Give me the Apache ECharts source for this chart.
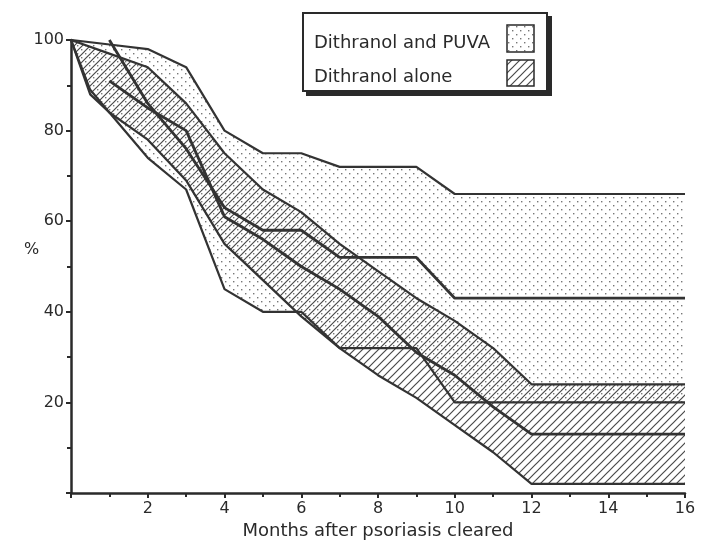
<!DOCTYPE html>
<html>
<head>
<meta charset="utf-8">
<script src="https://cdn.jsdelivr.net/npm/echarts@6/dist/echarts.min.js"></script>
<style>
html,body{margin:0;padding:0;background:#fff;}
#chart{width:701px;height:546px;}
</style>
</head>
<body>
<div id="chart"></div>
<script>
// ---- data (month, % ) ----
const xTicks = [2, 4, 6, 8, 10, 12, 14, 16];
const yTicks = [20, 40, 60, 80, 100];
const seriesNames = ['Dithranol and PUVA', 'Dithranol alone'];

const puvaUpper  = [[0,100],[1,99],[2,98],[3,94],[4,80],[5,75],[6,75],[7,72],[9,72],[10,66],[16,66]];
const puvaMedian = [[1,100],[2,86],[3,76],[4,63],[5,58],[6,58],[7,52],[9,52],[10,43],[16,43]];
const puvaLower  = [[0,100],[0.5,89],[1,84],[2,74],[3,67],[4,45],[5,40],[6,40],[7,32],[9,32],[10,20],[16,20]];

const aloneUpper  = [[0,100],[1,97],[2,94],[3,86],[4,75],[5,67],[6,62],[7,55],[8,49],[9,43],[10,38],[11,32],[12,24],[16,24]];
const aloneMedian = [[1,91],[2,85],[3,80],[4,61],[5,56],[6,50],[7,45],[8,39],[9,31],[10,26],[11,19],[12,13],[16,13]];
const aloneLower  = [[0,100],[0.5,88],[1,84],[2,78],[3,69],[4,55],[5,47],[6,39],[7,32],[8,26],[9,21],[10,15],[11,9],[12,2],[16,2]];

// ---- patterns ----
function dotPattern() {
  const c = document.createElement('canvas');
  c.width = 8; c.height = 8;
  const g = c.getContext('2d');
  g.fillStyle = '#777';
  g.fillRect(1, 1, 1.4, 1.4);
  g.fillRect(5, 5, 1.4, 1.4);
  return c;
}
function hatchPattern() {
  const s = 8;
  const c = document.createElement('canvas');
  c.width = s; c.height = s;
  const g = c.getContext('2d');
  g.strokeStyle = '#4a4a4a';
  g.lineWidth = 1.2;
  g.beginPath();
  g.moveTo(-1, s + 1); g.lineTo(s + 1, -1);
  g.moveTo(-1, 1); g.lineTo(1, -1);
  g.moveTo(s - 1, s + 1); g.lineTo(s + 1, s - 1);
  g.stroke();
  return c;
}
const dots = dotPattern();
const hatch = hatchPattern();

function bandSeries(upper, lower, pattern, z) {
  return {
    type: 'custom',
    coordinateSystem: 'cartesian2d',
    silent: true,
    z: z,
    data: [[upper[0][0], upper[0][1]]],
    renderItem: function (params, api) {
      const pts = [];
      upper.forEach(p => pts.push(api.coord(p)));
      for (let i = lower.length - 1; i >= 0; i--) pts.push(api.coord(lower[i]));
      return {
        type: 'polygon',
        shape: { points: pts },
        style: { fill: { image: pattern, repeat: 'repeat' }, stroke: null }
      };
    }
  };
}

const lineColor = '#333';
function lineSeries(data, width) {
  return {
    type: 'line',
    data: data,
    symbol: 'none',
    z: 5,
    silent: true,
    lineStyle: { color: lineColor, width: width },
    animation: false
  };
}

const chart = echarts.init(document.getElementById('chart'), null, { renderer: 'canvas' });
const fontFam = 'DejaVu Sans';

chart.setOption({
  backgroundColor: '#ffffff',
  animation: false,
  grid: { left: 71, right: 16, top: 40, bottom: 53 },
  xAxis: {
    type: 'value',
    min: 0, max: 16, interval: 2,
    name: 'Months after psoriasis cleared',
    nameLocation: 'middle',
    nameGap: 21,
    nameTextStyle: { fontFamily: fontFam, fontSize: 18, color: '#2a2a2a' },
    axisLine: { show: true, lineStyle: { color: '#2a2a2a', width: 2.5 } },
    axisTick: { show: true, length: 5, lineStyle: { color: '#2a2a2a', width: 2 } },
    minorTick: { show: true, splitNumber: 2, length: 4, lineStyle: { color: '#2a2a2a', width: 2 } },
    splitLine: { show: false },
    axisLabel: {
      fontFamily: fontFam, fontSize: 16, color: '#2a2a2a', margin: 8,
      formatter: v => (xTicks.indexOf(v) >= 0 ? String(v) : '')
    }
  },
  yAxis: {
    type: 'value',
    min: 0, max: 100, interval: 20,
    axisLine: { show: true, lineStyle: { color: '#2a2a2a', width: 2.5 } },
    axisTick: { show: true, length: 5, lineStyle: { color: '#2a2a2a', width: 2 } },
    minorTick: { show: true, splitNumber: 2, length: 4, lineStyle: { color: '#2a2a2a', width: 2 } },
    splitLine: { show: false },
    axisLabel: {
      fontFamily: fontFam, fontSize: 16, color: '#2a2a2a', margin: 7,
      formatter: v => (yTicks.indexOf(v) >= 0 ? String(v) : '')
    }
  },
  series: [
    bandSeries(puvaUpper, puvaLower, dots, 1),
    bandSeries(aloneUpper, aloneLower, hatch, 2),
    lineSeries(puvaUpper, 2.2),
    lineSeries(puvaLower, 2.2),
    lineSeries(aloneUpper, 2.2),
    lineSeries(aloneLower, 2.2),
    lineSeries(puvaMedian, 2.8),
    lineSeries(aloneMedian, 2.8)
  ],
  graphic: [
    {
      type: 'text', left: 24, top: 242,
      style: { text: '%', font: '16px "DejaVu Sans"', fill: '#2a2a2a' }
    },
    {
      type: 'group', left: 302, top: 12,
      children: [
        { type: 'rect', shape: { x: 3, y: 3, width: 246, height: 80 }, style: { fill: '#2a2a2a' } },
        { type: 'rect', shape: { x: 0, y: 0, width: 244, height: 78 }, style: { fill: '#fff', stroke: '#2a2a2a', lineWidth: 2 } },
        { type: 'text', x: 11, y: 30, style: { text: seriesNames[0], font: '18px "DejaVu Sans"', fill: '#2a2a2a', textVerticalAlign: 'middle' } },
        { type: 'text', x: 11, y: 64, style: { text: seriesNames[1], font: '18px "DejaVu Sans"', fill: '#2a2a2a', textVerticalAlign: 'middle' } },
        { type: 'rect', shape: { x: 204, y: 12, width: 27, height: 27 }, style: { fill: { image: dots, repeat: 'repeat' }, stroke: '#2a2a2a', lineWidth: 1.5 } },
        { type: 'rect', shape: { x: 204, y: 47, width: 27, height: 26 }, style: { fill: { image: hatch, repeat: 'repeat' }, stroke: '#2a2a2a', lineWidth: 1.5 } }
      ]
    }
  ]
});
</script>
</body>
</html>
